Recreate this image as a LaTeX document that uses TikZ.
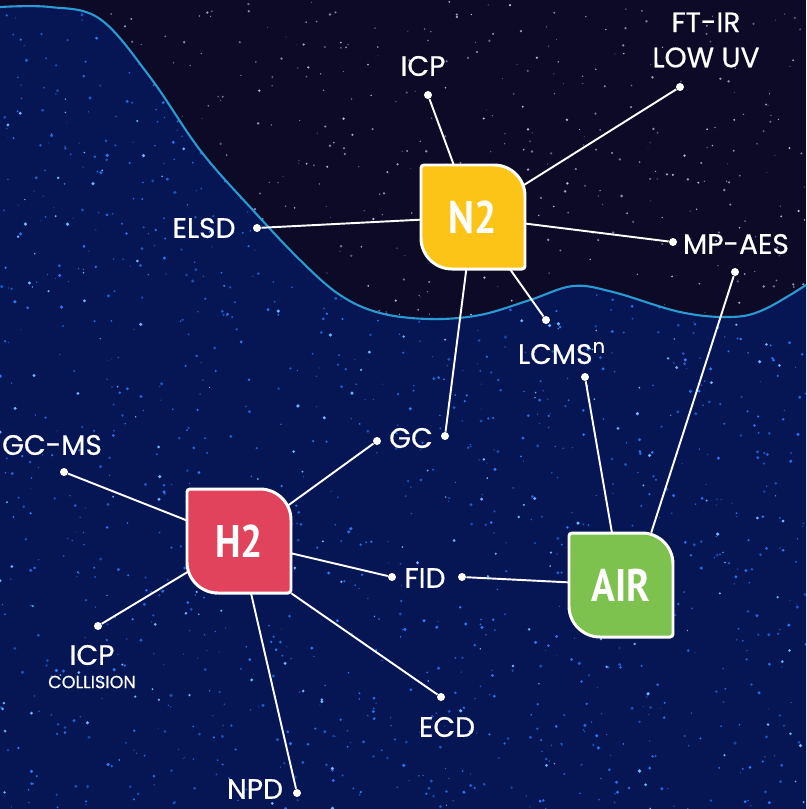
\documentclass[tikz,border=0pt]{standalone}
\usepackage{fontspec}
\setmainfont{Poppins}
\newfontfamily\tagfont{Poppins}[FakeBold=0.6]
\newfontfamily\boxfont{PT Sans}[FakeStretch=0.86]
\usepackage{tikz}
\usepackage{xcolor}

\definecolor{skytop}{HTML}{0C0A26}
\definecolor{skylow}{HTML}{061654}
\definecolor{horizon}{HTML}{2A9AD0}
\definecolor{starblue}{HTML}{2E7CFF}
\definecolor{starlight}{HTML}{6FB4FF}
\definecolor{starpale}{HTML}{C4C0F0}
\definecolor{nitro}{HTML}{FCC417}
\definecolor{hydro}{HTML}{E0435B}
\definecolor{airgreen}{HTML}{7DC24F}

\pgfdeclarelayer{sky}
\pgfdeclarelayer{links}
\pgfsetlayers{sky,links,main}

\begin{document}
\begin{tikzpicture}[x=0.02cm,y=-0.02cm,
  tag/.style={text=white,inner sep=0pt,align=center,font=\tagfont\fontsize{16}{20}\selectfont},
  enddot/.style={circle,fill=white,inner sep=0pt,minimum size=0.16cm},
  link/.style={white,line width=1.1pt},
  gasbox/.style={inner sep=0pt,minimum width=2.08cm,minimum height=2.08cm,
    text=white,font=\boxfont\bfseries\fontsize{26}{30}\selectfont},
  leaf/.style={draw=white,line width=1.7pt}]
\useasboundingbox (0,0) rectangle (806,809);

% night sky
\begin{pgfonlayer}{sky}
  \fill[skytop] (0,0) rectangle (806,809);
  \fill[skylow] plot[smooth,tension=0.6] coordinates {(0,7) (50,7) (100,19) (150,77) (200,150)
    (250,207) (300,260) (340,295) (380,313) (430,319) (480,315) (530,300) (573,286)
    (613,292) (680,312) (730,317) (763,310) (806,285)} -- (806,809) -- (0,809) -- cycle;
  \pgfmathsetseed{17}
  \begin{scope}
    \clip plot[smooth,tension=0.6] coordinates {(0,7) (50,7) (100,19) (150,77) (200,150)
      (250,207) (300,260) (340,295) (380,313) (430,319) (480,315) (530,300) (573,286)
      (613,292) (680,312) (730,317) (763,310) (806,285)} -- (806,809) -- (0,809) -- cycle;
    \foreach \i in {1,...,1500}{
      \pgfmathsetmacro\sx{806*rnd}
      \pgfmathsetmacro\sy{809*rnd}
      \pgfmathsetmacro\sr{0.01+0.025*rnd}
      \pgfmathsetmacro\so{0.45+0.55*rnd}
      \fill[starblue,opacity=\so] (\sx,\sy) circle (\sr cm);
    }
    \foreach \i in {1,...,250}{
      \pgfmathsetmacro\sx{806*rnd}
      \pgfmathsetmacro\sy{809*rnd}
      \pgfmathsetmacro\sr{0.012+0.025*rnd}
      \fill[starlight] (\sx,\sy) circle (\sr cm);
    }
  \end{scope}
  \begin{scope}
    \clip plot[smooth,tension=0.6] coordinates {(0,7) (50,7) (100,19) (150,77) (200,150)
      (250,207) (300,260) (340,295) (380,313) (430,319) (480,315) (530,300) (573,286)
      (613,292) (680,312) (730,317) (763,310) (806,285)} -- (806,0) -- (0,0) -- cycle;
    \foreach \i in {1,...,500}{
      \pgfmathsetmacro\sx{806*rnd}
      \pgfmathsetmacro\sy{330*rnd}
      \pgfmathsetmacro\sr{0.008+0.02*rnd}
      \pgfmathsetmacro\so{0.4+0.6*rnd}
      \fill[starpale,opacity=\so] (\sx,\sy) circle (\sr cm);
    }
  \end{scope}
  \draw[horizon,line width=1.2pt] plot[smooth,tension=0.6] coordinates {(0,7) (50,7) (100,19)
    (150,77) (200,150) (250,207) (300,260) (340,295) (380,313) (430,319) (480,315) (530,300)
    (573,286) (613,292) (680,312) (730,317) (763,310) (806,285)};
\end{pgfonlayer}

% gas boxes
\draw[leaf,fill=nitro] (421,217) [rounded corners=0.06cm] -- (421,165) [rounded corners=0.62cm]
  -- (525,165) [rounded corners=0.06cm] -- (525,269) [rounded corners=0.62cm] -- (421,269)
  [rounded corners=0.06cm] -- cycle;
\draw[leaf,fill=hydro] (187,541) [rounded corners=0.06cm] -- (187,489) [rounded corners=0.62cm]
  -- (291,489) [rounded corners=0.06cm] -- (291,593) [rounded corners=0.62cm] -- (187,593)
  [rounded corners=0.06cm] -- cycle;
\draw[leaf,fill=airgreen] (569,585) [rounded corners=0.06cm] -- (569,533) [rounded corners=0.62cm]
  -- (673,533) [rounded corners=0.06cm] -- (673,637) [rounded corners=0.62cm] -- (569,637)
  [rounded corners=0.06cm] -- cycle;
\node[gasbox] (n2) at (473,217) {N2};
\node[gasbox] (h2) at (239,541) {H2};
\node[gasbox] (air) at (621,585) {AIR};

% labels
\node[tag] (icp) at (423,66) {ICP};
\node[tag] (ftir) at (706,40) {FT-IR\\LOW UV};
\node[tag] (elsd) at (204,228) {ELSD};
\node[tag] (mpaes) at (736,244) {MP-AES};
\node[tag] (lcms) at (562,353) {LCMS\textsuperscript{n}};
\node[tag] (gc) at (411,438) {GC};
\node[tag] (gcms) at (52,445) {GC-MS};
\node[tag] (icpc) at (92,655) {ICP};
\node[tag,font=\tagfont\fontsize{10}{12}\selectfont] (coll) at (92,682) {COLLISION};
\node[tag] (fid) at (425,578) {FID};
\node[tag] (ecd) at (447,727) {ECD};
\node[tag] (npd) at (255,789) {NPD};

% end dots
\node[enddot] (icpdot) at (428,95) {};
\node[enddot] (ftirdot) at (680,87) {};
\node[enddot] (elsddot) at (257,228) {};
\node[enddot] (mpaesdot) at (673,242) {};
\node[enddot] (mpaesdotb) at (735,272) {};
\node[enddot] (lcmsdot) at (546,320) {};
\node[enddot] (lcmsdotb) at (585,377) {};
\node[enddot] (gcdot) at (445,436) {};
\node[enddot] (gcdotb) at (377,441) {};
\node[enddot] (gcmsdot) at (64,472) {};
\node[enddot] (icpcdot) at (98,626) {};
\node[enddot] (fiddot) at (392,577) {};
\node[enddot] (fiddotb) at (462,577) {};
\node[enddot] (ecddot) at (441,697) {};
\node[enddot] (npddot) at (297,793) {};

% connectors
\begin{pgfonlayer}{links}
  \draw[link] (icpdot) -- (n2.center);
  \draw[link] (ftirdot) -- (n2.center);
  \draw[link] (elsddot) -- (n2.center);
  \draw[link] (mpaesdot) -- (n2.center);
  \draw[link] (lcmsdot) -- (n2.center);
  \draw[link] (gcdot) -- (n2.center);
  \draw[link] (gcdotb) -- (h2.center);
  \draw[link] (gcmsdot) -- (h2.center);
  \draw[link] (icpcdot) -- (h2.center);
  \draw[link] (fiddot) -- (h2.center);
  \draw[link] (ecddot) -- (h2.south east);
  \draw[link] (npddot) -- (h2.center);
  \draw[link] (fiddotb) -- (air.center);
  \draw[link] (lcmsdotb) -- (air.center);
  \draw[link] (mpaesdotb) -- (air.60);
\end{pgfonlayer}
\end{tikzpicture}
\end{document}
